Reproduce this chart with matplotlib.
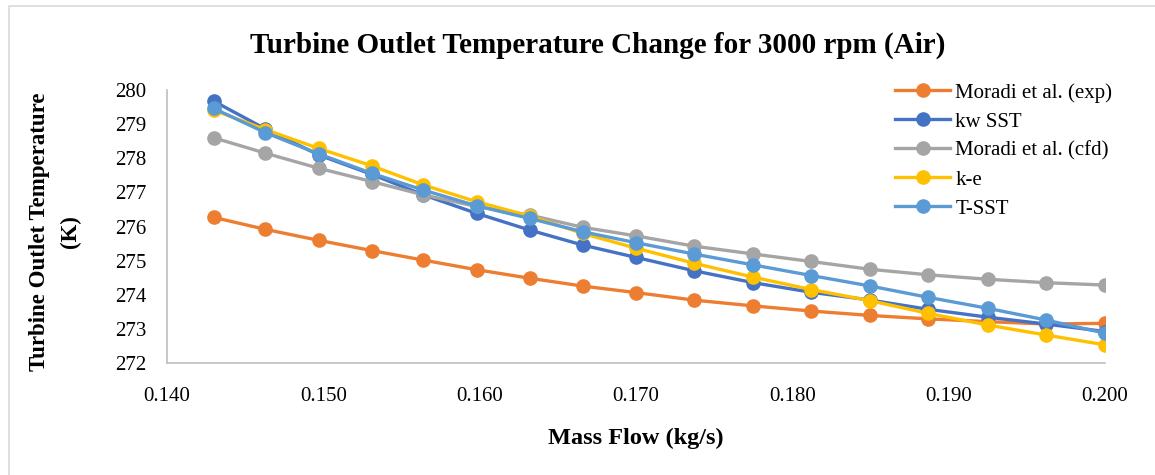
import matplotlib

matplotlib.use("Agg")
import matplotlib.pyplot as plt
from matplotlib.patches import Rectangle

# mass flow (kg/s)
mass_flow = [0.1430, 0.1463, 0.1497, 0.1531, 0.1564, 0.1598, 0.1632, 0.1666, 0.1700,
             0.1737, 0.1775, 0.1812, 0.1850, 0.1887, 0.1925, 0.1962, 0.2000]

# outlet temperature (K)
moradi_exp = [276.27, 275.92, 275.60, 275.30, 275.02, 274.74, 274.49, 274.26, 274.07,
              273.85, 273.68, 273.53, 273.40, 273.30, 273.22, 273.15, 273.17]
kw_sst = [279.67, 278.86, 278.10, 277.53, 276.93, 276.39, 275.90, 275.46, 275.10,
          274.71, 274.36, 274.08, 273.85, 273.58, 273.35, 273.15, 272.93]
moradi_cfd = [278.60, 278.15, 277.71, 277.32, 276.93, 276.59, 276.34, 275.98, 275.73,
              275.43, 275.20, 274.98, 274.75, 274.59, 274.46, 274.36, 274.29]
k_e = [279.41, 278.84, 278.29, 277.78, 277.22, 276.73, 276.31, 275.80, 275.37,
       274.93, 274.52, 274.16, 273.83, 273.46, 273.12, 272.83, 272.54]
t_sst = [279.46, 278.75, 278.13, 277.56, 277.07, 276.61, 276.24, 275.85, 275.53,
         275.20, 274.88, 274.57, 274.26, 273.93, 273.61, 273.27, 272.88]

series = [
    ("Moradi et al. (exp)", moradi_exp, "#ED7D31"),
    ("kw SST", kw_sst, "#4472C4"),
    ("Moradi et al. (cfd)", moradi_cfd, "#A5A5A5"),
    ("k-e", k_e, "#FFC000"),
    ("T-SST", t_sst, "#5B9BD5"),
]

x_ticks = [0.140, 0.150, 0.160, 0.170, 0.180, 0.190, 0.200]
y_ticks = [272, 273, 274, 275, 276, 277, 278, 279, 280]

plt.rcParams["font.family"] = ["Liberation Serif", "DejaVu Serif"]

fig = plt.figure(figsize=(11.55, 4.75), dpi=100)
ax = fig.add_axes([167 / 1155, 1 - 363.3 / 475, (1105 - 167) / 1155, (363.3 - 90) / 475])

for label, vals, col in series:
    ax.plot(mass_flow, vals, color=col, lw=2.4, marker="o", ms=9.5, label=label)

ax.set_xlim(0.140, 0.200)
ax.set_ylim(272, 280)
ax.set_xticks(x_ticks)
ax.set_xticklabels([f"{v:.3f}" for v in x_ticks])
ax.set_yticks(y_ticks)
ax.tick_params(length=0, labelsize=15)
ax.tick_params(axis="x", pad=17)
ax.tick_params(axis="y", pad=15)
for s in ["top", "right"]:
    ax.spines[s].set_visible(False)
for s in ["left", "bottom"]:
    ax.spines[s].set_color("#BFBFBF")
    ax.spines[s].set_linewidth(1.2)

ax.set_xlabel("Mass Flow (kg/s)", fontsize=17.5, fontweight="bold", labelpad=16)
fig.text(55 / 1155, 1 - 232 / 475, "Turbine Outlet Temperature\n(K)", rotation=90,
         ha="center", va="center", fontsize=16.5, fontweight="bold", linespacing=1.6)
fig.text(598 / 1155, 1 - 45 / 475, "Turbine Outlet Temperature Change for 3000 rpm (Air)",
         ha="center", va="center", fontsize=21, fontweight="bold")

fig.legend(loc="upper left", bbox_to_anchor=(895 / 1155, 1 - 83 / 475), frameon=False,
           fontsize=15, handlelength=2.65, handletextpad=0.25, labelspacing=0.45,
           borderaxespad=0, borderpad=0)

# chart frame
fig.patches.append(Rectangle((9 / 1155, -0.01), 1.02, 1 - 6 / 475 + 0.01,
                             transform=fig.transFigure, fill=False,
                             edgecolor="#D9D9D9", lw=1.2))

fig.savefig("out.png", dpi=100)
